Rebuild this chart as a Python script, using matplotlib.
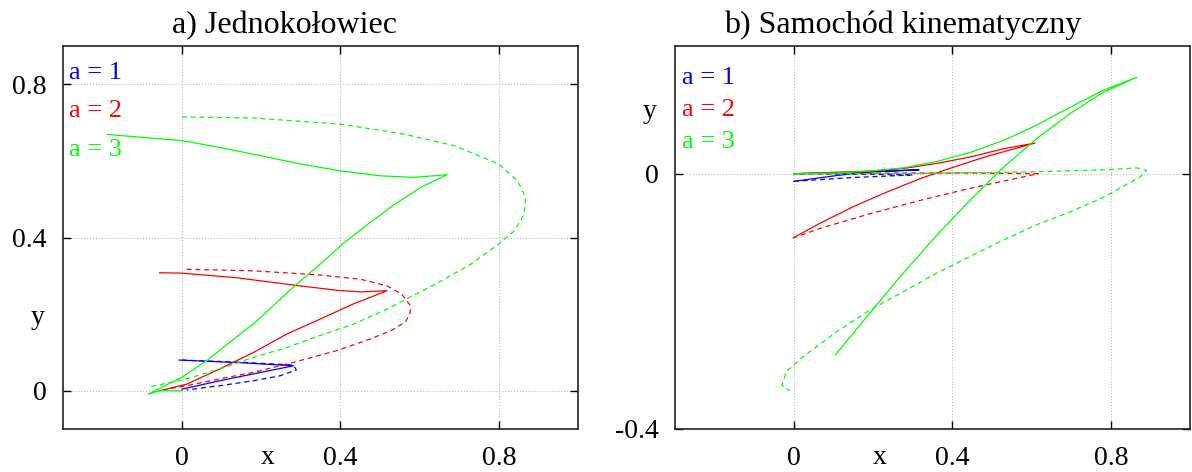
import matplotlib
matplotlib.use("Agg")
import matplotlib.pyplot as plt

plt.rcParams['font.family'] = ['Liberation Serif', 'DejaVu Serif']
plt.rcParams['axes.unicode_minus'] = False

# a) unicycle: tracked path (solid) and reference path (dashed) for a = 1, 2, 3
uni_x1 = [0.0, 0.096, 0.181, 0.282, 0.15, -0.007]
uni_y1 = [0.004, 0.026, 0.044, 0.065, 0.073, 0.080]
uni_rx1 = [0.0, 0.155, 0.282, 0.289, 0.248, 0.181, 0.096, 0.012]
uni_ry1 = [0.080, 0.074, 0.067, 0.054, 0.039, 0.026, 0.013, 0.002]

uni_x2 = [-0.056, 0.012, 0.096, 0.181, 0.265, 0.349, 0.434, 0.518,
          0.451, 0.392, 0.265, 0.138, 0.0, -0.056]
uni_y2 = [0.0, 0.017, 0.057, 0.100, 0.148, 0.187, 0.227, 0.261,
          0.258, 0.262, 0.278, 0.295, 0.307, 0.308]
uni_rx2 = [0.012, 0.181, 0.349, 0.451, 0.518, 0.555, 0.575, 0.577, 0.565, 0.530, 0.476,
           0.392, 0.282, 0.181, 0.096, 0.012, -0.039]
uni_ry2 = [0.317, 0.313, 0.302, 0.291, 0.274, 0.252, 0.225, 0.205, 0.180, 0.158, 0.135,
           0.105, 0.074, 0.048, 0.031, 0.013, 0.004]

uni_x3 = [0.0, -0.056, -0.085, 0.0, 0.062, 0.190, 0.286, 0.349, 0.408, 0.470, 0.535,
          0.603, 0.670, 0.586, 0.501, 0.4, 0.299, 0.197, 0.096, 0.0, -0.188]
uni_y3 = [0.0, 0.0, -0.009, 0.035, 0.078, 0.183, 0.275, 0.330, 0.385, 0.435, 0.485,
          0.531, 0.564, 0.557, 0.561, 0.574, 0.592, 0.614, 0.635, 0.653, 0.669]
uni_rx3 = [0.0, 0.181, 0.4, 0.560, 0.687, 0.8, 0.847, 0.868, 0.864, 0.839, 0.8, 0.729,
           0.645, 0.577, 0.518, 0.434, 0.349, 0.265, 0.181, 0.096, 0.012, -0.085]
uni_ry3 = [0.715, 0.712, 0.696, 0.670, 0.640, 0.592, 0.548, 0.505, 0.461, 0.417, 0.383, 0.330,
           0.281, 0.245, 0.213, 0.174, 0.144, 0.113, 0.087, 0.057, 0.031, 0.009]

# b) kinematic car
car_x1 = [0.0, 0.107, 0.191, 0.316, 0.2, 0.1, 0.0]
car_y1 = [-0.012, -0.003, 0.003, 0.006, 0.003, 0.001, 0.0]
car_rx1 = [0.0, 0.149, 0.301, 0.2, 0.0]
car_ry1 = [-0.012, -0.006, -0.002, -0.001, 0.0]

car_x2 = [0.0, 0.065, 0.149, 0.234, 0.318, 0.402, 0.487, 0.609,
          0.529, 0.444, 0.360, 0.276, 0.191, 0.0]
car_y2 = [-0.100, -0.078, -0.052, -0.029, -0.008, 0.010, 0.027, 0.048,
          0.039, 0.026, 0.016, 0.008, 0.004, 0.0]
car_rx2 = [-0.003, 0.065, 0.191, 0.318, 0.444, 0.617, 0.444, 0.276, 0.0]
car_ry2 = [-0.101, -0.086, -0.063, -0.042, -0.023, 0.0, 0.001, 0.001, 0.0]

car_x3 = [0.105, 0.191, 0.276, 0.360, 0.444, 0.529, 0.613, 0.697, 0.782, 0.866,
          0.782, 0.697, 0.613, 0.529, 0.444, 0.360, 0.276, 0.191, 0.107, 0.0]
car_y3 = [-0.284, -0.219, -0.156, -0.097, -0.042, 0.010, 0.055, 0.094, 0.128, 0.151,
          0.131, 0.104, 0.076, 0.052, 0.033, 0.019, 0.009, 0.004, 0.001, 0.0]
car_rx3 = [0.0, 0.276, 0.613, 0.782, 0.866, 0.890, 0.874, 0.782, 0.697, 0.613, 0.529,
           0.444, 0.360, 0.276, 0.191, 0.107, 0.023, -0.019, -0.030, -0.011]
car_ry3 = [0.0, 0.0, 0.003, 0.006, 0.009, 0.005, -0.005, -0.037, -0.060, -0.080, -0.104,
           -0.130, -0.156, -0.185, -0.214, -0.248, -0.287, -0.310, -0.331, -0.340]

colors = ['#0000ff', '#ff0000', '#00ff00']
labels = ['a = 1', 'a = 2', 'a = 3']

fig = plt.figure(figsize=(11.92, 4.72), dpi=100)
ax1 = fig.add_axes([63 / 1192, 43 / 472, 515 / 1192, 383 / 472])
ax2 = fig.add_axes([675 / 1192, 43 / 472, 515 / 1192, 383 / 472])


def style(ax, yticks, ylim, ylab_y, leg_y, leg_x):
    ax.set_xlim(-0.3, 1.0)
    ax.set_ylim(*ylim)
    ax.set_xticks([0, 0.4, 0.8])
    ax.set_xticklabels(['0', '0.4', '0.8'])
    ax.set_yticks(yticks)
    ax.set_yticklabels([('%g' % t) for t in yticks])
    ax.grid(True, color='#bbbbbb', linestyle=':', linewidth=0.8)
    ax.tick_params(direction='in', length=6, width=1, top=True, right=True,
                   labelsize=20, pad=12)
    for s in ax.spines.values():
        s.set_linewidth(1.2)
        s.set_color('#222222')
    ax.text(0.398, -0.075, 'x', transform=ax.transAxes, fontsize=20,
            ha='center', va='center')
    ax.text(-0.049, ylab_y, 'y', transform=ax.transAxes, fontsize=20,
            ha='center', va='center')
    for c, lab, yy in zip(colors, labels, leg_y):
        ax.text(leg_x, yy, lab, transform=ax.transAxes, color=c, fontsize=19,
                ha='left', va='center')


dash = (0, (4, 3))
lw = 0.9

for (x, y, rx, ry), c in zip([(uni_x1, uni_y1, uni_rx1, uni_ry1),
                              (uni_x2, uni_y2, uni_rx2, uni_ry2),
                              (uni_x3, uni_y3, uni_rx3, uni_ry3)], colors):
    ax1.plot(rx, ry, color=c, lw=lw, linestyle=dash)
    ax1.plot(x, y, color=c, lw=lw)

for (x, y, rx, ry), c in zip([(car_x1, car_y1, car_rx1, car_ry1),
                              (car_x2, car_y2, car_rx2, car_ry2),
                              (car_x3, car_y3, car_rx3, car_ry3)], colors):
    ax2.plot(rx, ry, color=c, lw=lw, linestyle=dash)
    ax2.plot(x, y, color=c, lw=lw)

style(ax1, [0, 0.4, 0.8], (-0.1, 0.9), 0.29, [0.929, 0.830, 0.728], 0.012)
style(ax2, [-0.4, 0], (-0.4, 0.2), 0.828, [0.916, 0.833, 0.749], 0.014)

fig.text(284 / 1192, 1 - 33 / 472, 'a) Jednokołowiec', fontsize=23,
         ha='center', va='baseline')
fig.text(903 / 1192, 1 - 33 / 472, 'b) Samochód kinematyczny', fontsize=23,
         ha='center', va='baseline')

fig.savefig('out.png', dpi=100)
